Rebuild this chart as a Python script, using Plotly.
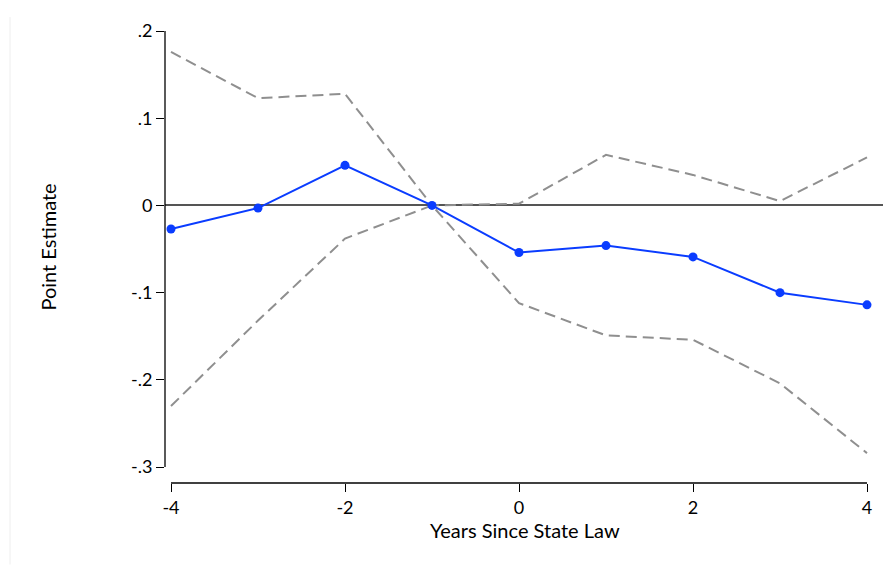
import plotly.graph_objects as go

years = [-4, -3, -2, -1, 0, 1, 2, 3, 4]
point_est = [-0.027, -0.003, 0.046, 0.0, -0.054, -0.046, -0.059, -0.100, -0.114]
upper_ci = [0.176, 0.123, 0.128, 0.0, 0.002, 0.058, 0.035, 0.005, 0.055]
lower_ci = [-0.230, -0.132, -0.038, 0.0, -0.112, -0.149, -0.154, -0.204, -0.284]

y_tickvals = [0.2, 0.1, 0.0, -0.1, -0.2, -0.3]
y_ticktext = [".2", ".1", "0", "-.1", "-.2", "-.3"]
x_tickvals = [-4, -2, 0, 2, 4]
x_ticktext = ["-4", "-2", "0", "2", "4"]

FONT = "Lato, 'Open Sans', sans-serif"
gray = "#8f8f8f"
blue = "#0a3cff"

fig = go.Figure()
fig.add_trace(go.Scatter(x=years, y=upper_ci, mode="lines",
                         line=dict(color=gray, width=2, dash="11px,6px"), showlegend=False))
fig.add_trace(go.Scatter(x=years, y=lower_ci, mode="lines",
                         line=dict(color=gray, width=2, dash="11px,6px"), showlegend=False))
fig.add_trace(go.Scatter(x=years, y=point_est, mode="lines+markers",
                         line=dict(color=blue, width=2),
                         marker=dict(color=blue, size=9), showlegend=False))

# page body has an 8px margin; figure sized to fill the rest of the window
W, H = 886, 557
L, R, T, B = 157, 11, 20, 82
PW, PH = W - L - R, H - T - B
ppu = 87.0
xr = [-4 - 6 / ppu, 4 + 16 / ppu]
yppu = (467 - 28) / 0.5
yr = [-0.3 - 16 / yppu, 0.2]

fig.update_layout(
    width=W, height=H,
    margin=dict(l=L, r=R, t=T, b=B),
    paper_bgcolor="white", plot_bgcolor="white",
    font=dict(family=FONT, color="black"),
    xaxis=dict(range=xr, tickvals=x_tickvals, ticktext=x_ticktext, ticks="outside",
               ticklen=8, tickwidth=1.2, tickcolor="black", showgrid=False,
               zeroline=False, showline=False, tickfont=dict(size=18)),
    yaxis=dict(range=yr, tickvals=y_tickvals, ticktext=y_ticktext, ticks="outside", ticklen=8,
               tickwidth=1.2, tickcolor="black", showgrid=False, zeroline=True,
               zerolinecolor="#555555", zerolinewidth=1.6, showline=False,
               tickfont=dict(size=18)),
    annotations=[
        dict(text="Years Since State Law", xref="paper", yref="paper", x=0.5 + (525 - 524) / PW,
             y=0, xanchor="center", yanchor="middle", yshift=-47, showarrow=False,
             font=dict(size=20)),
        dict(text="Point Estimate", xref="paper", yref="paper", x=0, y=0.5 + (455 / 2 - (246 - 28)) / PH,
             xanchor="center", yanchor="middle", xshift=-117, textangle=-90, showarrow=False,
             font=dict(size=20)),
    ],
    shapes=[
        dict(type="line", xref="paper", yref="y", x0=0, x1=0, y0=-0.3, y1=0.2,
             line=dict(color="black", width=1.3)),
        dict(type="line", xref="x", yref="paper", x0=-4, x1=4, y0=0, y1=0,
             line=dict(color="black", width=1.3)),
        dict(type="line", xref="paper", yref="paper",
             x0=-155 / PW, x1=-155 / PW, y0=-B / PH, y1=(PH + T - 6) / PH,
             line=dict(color="#eeeeee", width=1)),
    ],
)

fig.write_html("out.html")
